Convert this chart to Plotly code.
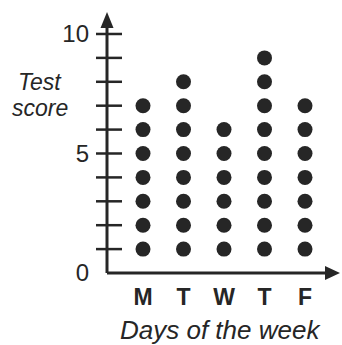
import plotly.graph_objects as go

# Dot plot: number of test-score dots stacked above each weekday
days = ["M", "T", "W", "T", "F"]
scores = [7, 8, 6, 9, 7]
y_tick_values = [0, 5, 10]
y_tick_labels = ["0", "5", "10"]
y_minor_ticks = list(range(1, 11))

ink = "#262626"
font_family = "Liberation Sans, Arial, sans-serif"

xs, ys = [], []
for i, n in enumerate(scores):
    for k in range(1, n + 1):
        xs.append(i + 1)
        ys.append(k)

fig = go.Figure()
fig.add_trace(go.Scatter(
    x=xs, y=ys, mode="markers",
    marker=dict(size=15, color=ink, line=dict(width=0)),
    hoverinfo="skip", showlegend=False,
))

x_range = [0.111, 5.889]
y_range = [0, 10.92]

shapes = []
# vertical axis line
shapes.append(dict(type="line", xref="paper", yref="y", x0=0, x1=0, y0=0, y1=10.3,
                   line=dict(color=ink, width=3)))
# horizontal axis line
shapes.append(dict(type="line", xref="x", yref="paper", x0=x_range[0], x1=5.6, y0=0, y1=0,
                   line=dict(color=ink, width=3)))
# cross ticks on the vertical axis
for v in y_minor_ticks:
    shapes.append(dict(type="line", xref="paper", yref="y", xsizemode="pixel", xanchor=0,
                       x0=-11, x1=15, y0=v, y1=v, line=dict(color=ink, width=2.5)))
# arrowheads
shapes.append(dict(type="path", xref="paper", yref="paper", xsizemode="pixel", ysizemode="pixel",
                   xanchor=0, yanchor=1, path="M -6.5 -16 L 6.5 -16 L 0 0 Z",
                   fillcolor=ink, line=dict(width=0)))
shapes.append(dict(type="path", xref="paper", yref="paper", xsizemode="pixel", ysizemode="pixel",
                   xanchor=1, yanchor=0, path="M -16 -7 L -16 7 L -1 0 Z",
                   fillcolor=ink, line=dict(width=0)))

annotations = [
    dict(text="<i>Test</i>", xref="paper", yref="y", x=0, xanchor="center", xshift=-67, y=8.0,
         showarrow=False, font=dict(size=23, color=ink, family=font_family)),
    dict(text="<i>score</i>", xref="paper", yref="y", x=0, xanchor="center", xshift=-67, y=6.9,
         showarrow=False, font=dict(size=23, color=ink, family=font_family)),
    dict(text="<i>Days of the week</i>", xref="paper", yref="paper", x=0.485, xanchor="center",
         y=0, yanchor="middle", yshift=-57, showarrow=False,
         font=dict(size=26, color=ink, family=font_family)),
]

fig.update_layout(
    width=342, height=345,
    margin=dict(l=107, r=1, t=12, b=72),
    paper_bgcolor="white", plot_bgcolor="white",
    shapes=shapes, annotations=annotations,
    xaxis=dict(range=x_range, showgrid=False, zeroline=False, showline=False,
               tickmode="array", tickvals=list(range(1, len(days) + 1)),
               ticktext=["<b>%s</b>" % d for d in days], ticks="",
               ticklabelstandoff=8,
               tickfont=dict(size=23, color=ink, family=font_family)),
    yaxis=dict(range=y_range, showgrid=False, zeroline=False, showline=False,
               tickmode="array", tickvals=y_tick_values, ticktext=y_tick_labels,
               ticks="", ticklabelstandoff=17,
               tickfont=dict(size=24, color=ink, family=font_family)),
)

fig.write_html("out.html")
